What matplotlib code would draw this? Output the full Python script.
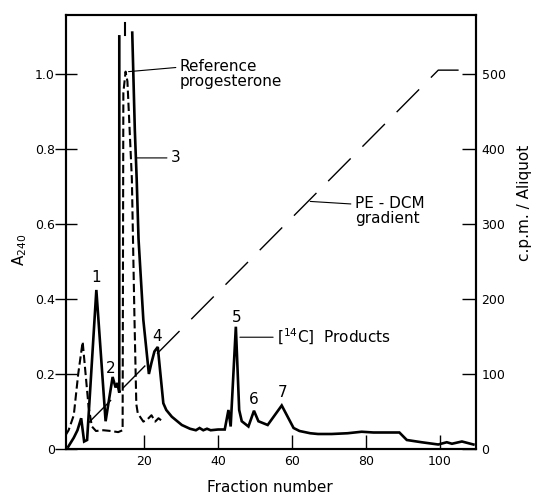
import numpy as np
import matplotlib
matplotlib.use("Agg")
import matplotlib.pyplot as plt

# ---- data ----
# [14C] products (c.p.m. / aliquot), solid line; NaN = off-scale break of peak 3
prod_x = [-0.5, 1.0, 2.0, 3.0, 3.8, 4.6, 7.1, 9.6, 11.5, 12.3, 12.8, 13.3, 13.3, np.nan,
          16.8, 17.5, 18.0, 18.5, 19.8, 21.3, 22.0, 22.8, 23.7, 25.2, 26.0, 27.5, 30.2,
          32.4, 34, 35, 36, 37, 38, 40, 41.8, 42.8, 43.4, 44.8, 45.7, 46.4, 48.2, 49.7,
          50.9, 53.4, 57.2, 60.4, 62, 64.9, 67, 70.7, 75, 78.8, 82, 84.2, 89, 91, 95,
          99.5, 101.8, 103.2, 105.9, 109]
prod_cpm = [3, 15, 25, 41, 10, 12, 212, 37, 96, 82, 88, 75, 550, np.nan,
            555, 425, 360, 280, 172, 100, 115, 130, 136, 61, 52, 43, 32,
            27, 25, 28, 25, 27, 25, 26, 26, 52, 30, 163, 52, 37, 30, 51,
            37, 32, 58, 28, 24, 21, 20, 20, 21, 23, 22, 22, 22, 12, 9,
            6, 9, 7, 10, 6]
# broken-peak marker above peak 3
peak3_mark_x = [14.9, 14.9]
peak3_mark_cpm = [552, 568]

# Reference progesterone (A240), dashed line
ref_x = [-1.2, -0.4, 1.0, 2.2, 3.4, 4.1, 5.0, 5.9, 7, 9, 11, 13, 14.2, 14.4, 15.0,
         15.5, 16.7, 17.4, 17.9, 18.3, 19.8, 21, 22, 23, 23.9, 24.8]
ref_a240 = [0.037, 0.05, 0.09, 0.20, 0.286, 0.21, 0.113, 0.06, 0.048, 0.05, 0.048, 0.045,
            0.05, 0.95, 1.006, 0.98, 0.72, 0.35, 0.12, 0.095, 0.073, 0.08, 0.09, 0.073,
            0.082, 0.075]

# PE-DCM gradient (schematic, in A240 axis units)
grad_x = [5, 99.5, 105]
grad_y = [0.07, 1.01, 1.01]

# peak numbers
peak_labels = ["1", "2", "4", "5", "6", "7"]
peak_lx = [7.0, 11.1, 23.6, 44.9, 49.7, 57.4]
peak_ly = [0.456, 0.215, 0.30, 0.351, 0.131, 0.15]

xticks = [20, 40, 60, 80, 100]
yticks_left = [0, 0.2, 0.4, 0.6, 0.8, 1.0]
yticklabels_left = ["0", "0.2", "0.4", "0.6", "0.8", "1.0"]
yticks_right = [0, 100, 200, 300, 400, 500]

# ---- figure ----
plt.rcParams['font.family'] = ['DejaVu Sans']
fig = plt.figure(figsize=(5.35, 4.94), dpi=100)
ax = fig.add_axes([66/535, 45/494, 410/535, 434/494])
ax2 = ax.twinx()

ax.set_xlim(-1.1, 109.7)
ax.set_ylim(0, 1.157)
ax2.set_ylim(0, 1.157 * 500)

ax2.plot(prod_x, prod_cpm, color='black', lw=1.9, solid_joinstyle='miter')
ax2.plot(peak3_mark_x, peak3_mark_cpm, color='black', lw=1.5)
ax.plot(ref_x, ref_a240, color='black', lw=1.5, dashes=(4.0, 1.8))
ax.plot(grad_x, grad_y, color='black', lw=1.0, dashes=(23, 12))

for s, x, y in zip(peak_labels, peak_lx, peak_ly):
    ax.text(x, y, s, fontsize=11, ha='center', va='center')

ap = dict(arrowstyle='-', lw=0.8, color='black', shrinkA=1, shrinkB=0)
ax.annotate("Reference\nprogesterone", xy=(15.8, 1.006), xytext=(29.7, 1.0),
            fontsize=11, ha='left', va='center', linespacing=1.05,
            arrowprops=dict(ap, relpos=(0, 0.72)))
ax.annotate("3", xy=(18.1, 0.776), xytext=(27.3, 0.776), fontsize=11,
            ha='left', va='center', arrowprops=ap)
ax.annotate("PE - DCM\ngradient", xy=(64.9, 0.66), xytext=(77.0, 0.635),
            fontsize=11, ha='left', va='center', linespacing=1.0,
            arrowprops=dict(ap, relpos=(0, 0.72)))
ax.annotate(r"[$^{14}$C]  Products", xy=(45.9, 0.298), xytext=(56.0, 0.298),
            fontsize=11, ha='left', va='center', arrowprops=ap)

ax.set_xticks(xticks)
ax.set_yticks(yticks_left)
ax.set_yticklabels(yticklabels_left)
ax2.set_yticks(yticks_right)
ax.tick_params(axis='x', direction='in', length=10, width=1, labelsize=9, pad=4)
ax.tick_params(axis='y', direction='inout', length=16, width=1, labelsize=9, pad=0)
ax2.tick_params(axis='y', direction='in', length=10, width=1, labelsize=9, pad=4)
for a in (ax, ax2):
    for sp in a.spines.values():
        sp.set_linewidth(1.5)

fig.text(270/535, 1 - 487/494, "Fraction number", fontsize=11, ha='center', va='center')
fig.text(20/535, 1 - 250/494, r"A$_{240}$", fontsize=11, ha='center', va='center', rotation=90)
fig.text(525/535, 1 - 203/494, "c.p.m. / Aliquot", fontsize=11, ha='center', va='center', rotation=90)

fig.savefig("out.png", dpi=100)
